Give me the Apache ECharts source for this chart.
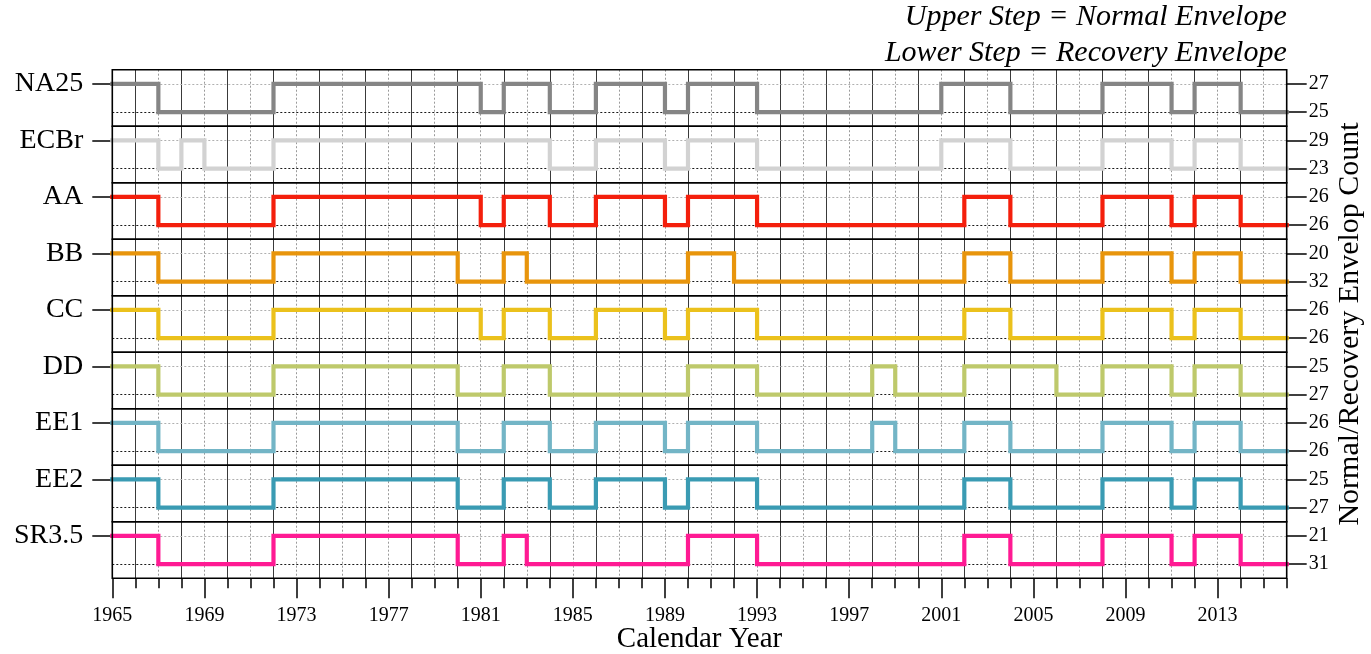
<!DOCTYPE html>
<html>
<head>
<meta charset="utf-8">
<script src="https://cdn.jsdelivr.net/npm/echarts@6/dist/echarts.min.js"></script>
<style>
html,body{margin:0;padding:0;background:#fff;}
#chart{width:1371px;height:654px;}
</style>
</head>
<body>
<div id="chart"></div>
<script>
// ---------------- data ----------------
const yearStart = 1965;
const yearEnd = 2016;
const bandNames = ['NA25', 'ECBr', 'AA', 'BB', 'CC', 'DD', 'EE1', 'EE2', 'SR3.5'];
const upperCounts = ['27', '29', '26', '20', '26', '25', '26', '25', '21'];
const lowerCounts = ['25', '23', '26', '32', '26', '27', '26', '27', '31'];
// state at yearStart: 1 = normal (upper step), 0 = recovery (lower step)
const startStates = [1, 1, 1, 1, 1, 1, 1, 1, 1];
// years at which each series toggles between normal and recovery
const chNA25 = [1967, 1972, 1981, 1982, 1984, 1986, 1989, 1990, 1993, 2001, 2004, 2008, 2011, 2012, 2014];
const chECBr = [1967, 1968, 1969, 1972, 1984, 1986, 1989, 1990, 1993, 2001, 2004, 2008, 2011, 2012, 2014];
const chAA   = [1967, 1972, 1981, 1982, 1984, 1986, 1989, 1990, 1993, 2002, 2004, 2008, 2011, 2012, 2014];
const chBB   = [1967, 1972, 1980, 1982, 1983, 1990, 1992, 2002, 2004, 2008, 2011, 2012, 2014];
const chCC   = [1967, 1972, 1981, 1982, 1984, 1986, 1989, 1990, 1993, 2002, 2004, 2008, 2011, 2012, 2014];
const chDD   = [1967, 1972, 1980, 1982, 1984, 1990, 1993, 1998, 1999, 2002, 2006, 2008, 2011, 2012, 2014];
const chEE1  = [1967, 1972, 1980, 1982, 1984, 1986, 1989, 1990, 1993, 1998, 1999, 2002, 2004, 2008, 2011, 2012, 2014];
const chEE2  = [1967, 1972, 1980, 1982, 1984, 1986, 1989, 1990, 1993, 2002, 2004, 2008, 2011, 2012, 2014];
const chSR35 = [1967, 1972, 1980, 1982, 1983, 1990, 1993, 2002, 2004, 2008, 2011, 2012, 2014];
const changeYears = [chNA25, chECBr, chAA, chBB, chCC, chDD, chEE1, chEE2, chSR35];
const noteLines = ['Upper Step = Normal Envelope', 'Lower Step = Recovery Envelope'];

// ---------------- style ----------------
const lineColors = ['#858585', '#d2d2d2', '#f41f0c', '#e8950c', '#ebc11c', '#bec96b', '#73b5c6', '#3a9bb3', '#ff1a93'];
const FONT = 'Liberation Serif';
const L = 112.3, R = 1286.7, T0 = 69.7, H = 56.5;

const yearLabels = [];
for (let y = yearStart; y <= yearEnd; y++) yearLabels.push(String(y));
const nYears = yearLabels.length;

const grids = [], xAxes = [], yAxes = [], series = [];

bandNames.forEach((name, i) => {
  grids.push({
    left: L, width: R - L, top: T0 + i * H, height: H,
    show: true, borderColor: '#000', borderWidth: 1.6, backgroundColor: 'transparent', z: 4
  });
  const xv = xAxes.length;
  xAxes.push({ type: 'value', gridIndex: i, min: yearStart, max: yearEnd, show: false });
  // odd-year dotted grid lines
  xAxes.push({
    type: 'category', gridIndex: i, data: yearLabels, boundaryGap: false, position: 'bottom',
    axisLine: { show: false, onZero: false }, axisTick: { show: false }, axisLabel: { show: false },
    splitLine: { show: true, interval: (k) => k % 2 === 0 && k > 0 && k < nYears - 1,
      lineStyle: { color: '#9a9a9a', width: 1, type: [2, 2] } }
  });
  // even-year solid grid lines
  xAxes.push({
    type: 'category', gridIndex: i, data: yearLabels, boundaryGap: false, position: 'top',
    axisLine: { show: false, onZero: false }, axisTick: { show: false }, axisLabel: { show: false },
    splitLine: { show: true, interval: (k) => k % 2 === 1 && k < nYears - 1,
      lineStyle: { color: '#3a3a3a', width: 1, type: 'solid' } }
  });
  const yv = yAxes.length;
  yAxes.push({ type: 'value', gridIndex: i, min: -0.5, max: 1.5, show: false });
  yAxes.push({
    type: 'category', gridIndex: i, position: 'left', data: ['R', 'N'],
    axisLine: { show: false, onZero: false },
    axisTick: { show: true, alignWithLabel: true, interval: (k) => k === 1, length: 20,
      lineStyle: { color: '#000', width: 1.5 } },
    axisLabel: { show: true, interval: (k) => k === 1, formatter: () => name,
      fontFamily: FONT, fontSize: 28, color: '#000', margin: 29 },
    splitLine: { show: false }
  });
  yAxes.push({
    type: 'category', gridIndex: i, position: 'right', data: ['R', 'N'],
    axisLine: { show: false, onZero: false },
    axisTick: { show: true, alignWithLabel: true, interval: 0, length: 20,
      lineStyle: { color: '#000', width: 1.5 } },
    axisLabel: { show: true, interval: 0, formatter: (v, k) => (k === 0 ? lowerCounts[i] : upperCounts[i]),
      fontFamily: FONT, fontSize: 20, color: '#000', margin: 22 },
    splitLine: { show: false }
  });

  let s = startStates[i];
  const data = [[yearStart, s]];
  changeYears[i].forEach((yr) => { s = 1 - s; data.push([yr, s]); });
  data.push([yearEnd, s]);

  series.push({
    type: 'line', name: name, xAxisIndex: xv, yAxisIndex: yv, step: 'end',
    symbol: 'none', z: 3, animation: false,
    lineStyle: { color: lineColors[i], width: 4.2, cap: 'square', join: 'miter' },
    data: data,
    markLine: {
      silent: true, symbol: ['none', 'none'], z: 1, animation: false,
      label: { show: false },
      lineStyle: { type: [2, 2], width: 1 },
      data: [
        { yAxis: 1, lineStyle: { color: '#b0b0b0', type: [2, 2], width: 1 } },
        { yAxis: 0, lineStyle: { color: '#1a1a1a', type: [2, 2], width: 1 } }
      ]
    }
  });
});

const last = bandNames.length - 1;
// bottom axis: yearly minor ticks
xAxes.push({
  type: 'category', gridIndex: last, data: yearLabels, boundaryGap: false, position: 'bottom',
  axisLine: { show: false, onZero: false },
  axisTick: { show: true, interval: 0, length: 10, lineStyle: { color: '#000', width: 1.5 } },
  axisLabel: { show: false }, splitLine: { show: false }
});
// bottom axis: labelled major ticks every 4 years
xAxes.push({
  type: 'category', gridIndex: last, data: yearLabels, boundaryGap: false, position: 'bottom',
  axisLine: { show: false, onZero: false },
  axisTick: { show: true, interval: (k) => k % 4 === 0, length: 20, lineStyle: { color: '#000', width: 1.5 } },
  axisLabel: { show: true, interval: (k) => k % 4 === 0, fontFamily: FONT, fontSize: 20, color: '#000', margin: 28 },
  splitLine: { show: false }
});

const chart = echarts.init(document.getElementById('chart'), null, { renderer: 'canvas' });
chart.setOption({
  animation: false,
  backgroundColor: '#fff',
  grid: grids,
  xAxis: xAxes,
  yAxis: yAxes,
  series: series,
  graphic: [
    {
      type: 'text', x: R, y: 17,
      style: {
        text: noteLines[0], fontFamily: FONT, fontStyle: 'italic', fontSize: 30,
        fill: '#000', align: 'right', verticalAlign: 'middle'
      }
    },
    {
      type: 'text', x: R, y: 53,
      style: {
        text: noteLines[1], fontFamily: FONT, fontStyle: 'italic', fontSize: 30,
        fill: '#000', align: 'right', verticalAlign: 'middle'
      }
    },
    {
      type: 'text', x: (L + R) / 2, y: 639,
      style: {
        text: 'Calendar Year', fontFamily: FONT, fontSize: 29, fill: '#000',
        align: 'center', verticalAlign: 'middle'
      }
    },
    {
      type: 'text', x: 1350, y: T0 + 4.5 * H, rotation: Math.PI / 2,
      style: {
        text: 'Normal/Recovery Envelop Count', fontFamily: FONT, fontSize: 30, fill: '#000',
        align: 'center', verticalAlign: 'middle'
      }
    }
  ]
});
</script>
</body>
</html>
